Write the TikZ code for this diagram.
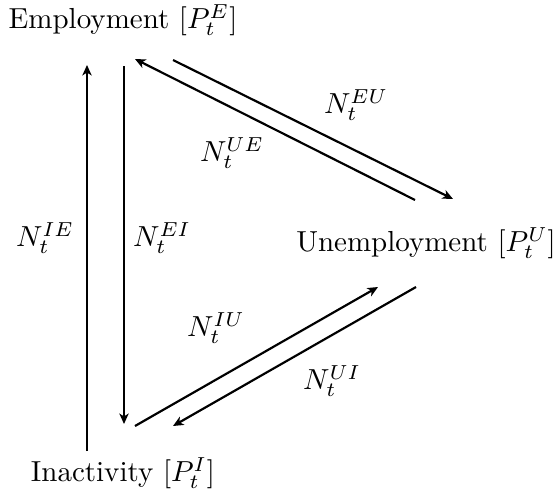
\documentclass[tikz,border=0pt]{standalone}
\usetikzlibrary{arrows.meta}
\begin{document}
\begin{tikzpicture}[x=0.345pt,y=-0.345pt,
  flow/.style={-{Stealth[length=3.6pt,width=3.2pt,inset=1pt]},line width=0.75pt},
  lab/.style={inner sep=0pt}]
\useasboundingbox (0,0) rectangle (555,493);
% states
\node[lab] (E) at (123,20) {Employment $[P_t^E]$};
\node[lab] (U) at (426,243) {Unemployment $[P_t^U]$};
\node[lab] (I) at (123,473) {Inactivity $[P_t^I]$};
% connector end points
\coordinate (ieS) at (87,451);  \coordinate (ieT) at (87,65);
\coordinate (eiS) at (124,66);  \coordinate (eiT) at (124,424);
\coordinate (ueS) at (415,200); \coordinate (ueT) at (135,59);
\coordinate (euS) at (173,60);  \coordinate (euT) at (453,199);
\coordinate (iuS) at (135,426); \coordinate (iuT) at (378,287);
\coordinate (uiS) at (416,287); \coordinate (uiT) at (173,426);
\draw[flow] (ieS) -- (ieT);
\draw[flow] (eiS) -- (eiT);
\draw[flow] (ueS) -- (ueT);
\draw[flow] (euS) -- (euT);
\draw[flow] (iuS) -- (iuT);
\draw[flow] (uiS) -- (uiT);
% labels
\node[lab] (lIE) at (45,238) {$N_t^{IE}$};
\node[lab] (lEI) at (162,238) {$N_t^{EI}$};
\node[lab] (lEU) at (356,105) {$N_t^{EU}$};
\node[lab] (lUE) at (232,153) {$N_t^{UE}$};
\node[lab] (lIU) at (216,328) {$N_t^{IU}$};
\node[lab] (lUI) at (332,381) {$N_t^{UI}$};
\end{tikzpicture}
\end{document}
